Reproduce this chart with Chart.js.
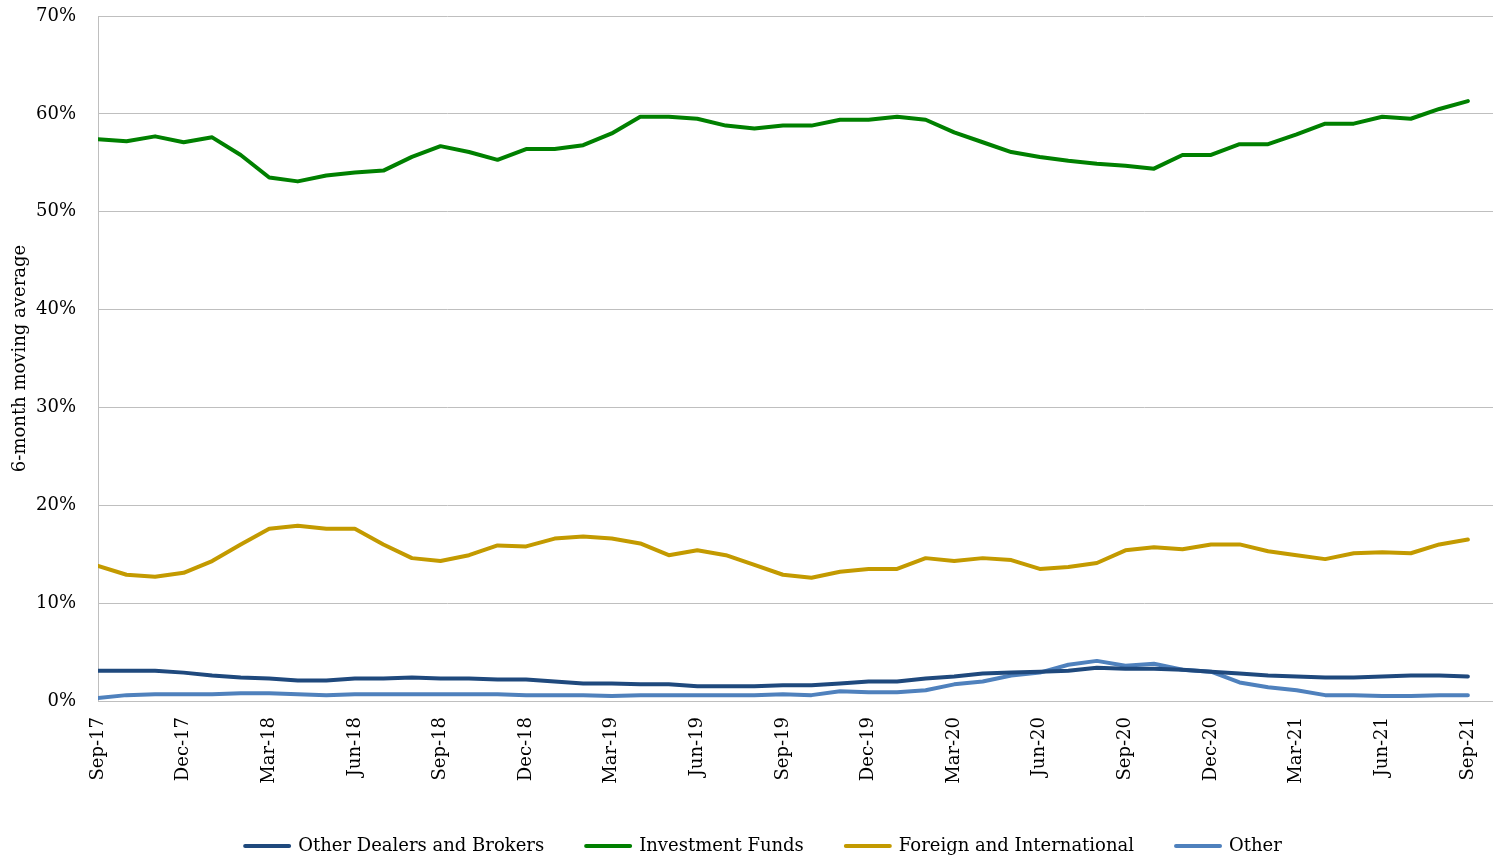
<!DOCTYPE html>
<html>
<head>
<meta charset="utf-8">
<script src="https://cdn.jsdelivr.net/npm/chart.js@4"></script>
<style>
  html, body { margin: 0; padding: 0; background: #fff; }
  #wrap { width: 1493px; height: 858px; }
</style>
</head>
<body>
<div id="wrap"><canvas id="chart"></canvas></div>
<script>
const tickLabels = [
    "Sep-17", "Dec-17", "Mar-18", "Jun-18", "Sep-18", "Dec-18", "Mar-19", "Jun-19",
    "Sep-19", "Dec-19", "Mar-20", "Jun-20", "Sep-20", "Dec-20", "Mar-21", "Jun-21", "Sep-21",
];

// monthly, Sep-17 .. Sep-21 (49 points), percent
const dealers = [
    3.1, 3.1, 3.1, 2.9, 2.6, 2.4, 2.3, 2.1, 2.1, 2.3, 2.3, 2.4, 2.3, 2.3, 2.2, 2.2,
    2.0, 1.8, 1.8, 1.7, 1.7, 1.5, 1.5, 1.5, 1.6, 1.6, 1.8, 2.0, 2.0, 2.3, 2.5, 2.8,
    2.9, 3.0, 3.1, 3.4, 3.3, 3.3, 3.2, 3.0, 2.8, 2.6, 2.5, 2.4, 2.4, 2.5, 2.6, 2.6, 2.5,
];
const funds = [
    57.4, 57.2, 57.7, 57.1, 57.6, 55.8, 53.5, 53.1, 53.7, 54.0, 54.2, 55.6, 56.7, 56.1, 55.3, 56.4,
    56.4, 56.8, 58.0, 59.7, 59.7, 59.5, 58.8, 58.5, 58.8, 58.8, 59.4, 59.4, 59.7, 59.4, 58.1, 57.1,
    56.1, 55.6, 55.2, 54.9, 54.7, 54.4, 55.8, 55.8, 56.9, 56.9, 57.9, 59.0, 59.0, 59.7, 59.5, 60.5, 61.3,
];
const foreign = [
    13.8, 12.9, 12.7, 13.1, 14.3, 16.0, 17.6, 17.9, 17.6, 17.6, 16.0, 14.6, 14.3, 14.9, 15.9, 15.8,
    16.6, 16.8, 16.6, 16.1, 14.9, 15.4, 14.9, 13.9, 12.9, 12.6, 13.2, 13.5, 13.5, 14.6, 14.3, 14.6,
    14.4, 13.5, 13.7, 14.1, 15.4, 15.7, 15.5, 16.0, 16.0, 15.3, 14.9, 14.5, 15.1, 15.2, 15.1, 16.0, 16.5,
];
const other = [
    0.3, 0.6, 0.7, 0.7, 0.7, 0.8, 0.8, 0.7, 0.6, 0.7, 0.7, 0.7, 0.7, 0.7, 0.7, 0.6,
    0.6, 0.6, 0.5, 0.6, 0.6, 0.6, 0.6, 0.6, 0.7, 0.6, 1.0, 0.9, 0.9, 1.1, 1.7, 2.0,
    2.6, 2.9, 3.7, 4.1, 3.6, 3.8, 3.2, 3.0, 1.9, 1.4, 1.1, 0.6, 0.6, 0.5, 0.5, 0.6, 0.6,
];

const FONT = "'DejaVu Serif', 'Liberation Serif', serif";
const GRID = "#BFBFBF";

// left layout padding nudges the legend row right; the y axis box shrinks to keep the plot at x=98
const LEFT_PAD = 34;

const toPoints = arr => arr.map((v, i) => ({ x: i, y: v }));

function series(label, values, color) {
    return {
        label: label,
        data: toPoints(values),
        borderColor: color,
        backgroundColor: color,
        borderWidth: 4,
        borderCapStyle: "round",
        borderJoinStyle: "round",
        pointRadius: 0,
        tension: 0,
    };
}

new Chart(document.querySelector("#chart"), {
    type: "line",
    data: {
        datasets: [
            series("Other Dealers and Brokers", dealers, "#1F497D"),
            series("Investment Funds", funds, "#008000"),
            series("Foreign and International", foreign, "#C39A00"),
            series("Other", other, "#4F81BD"),
        ],
    },
    options: {
        responsive: true,
        maintainAspectRatio: false,
        animation: false,
        layout: { padding: { top: 0, right: 0, left: LEFT_PAD, bottom: -7 } },
        scales: {
            x: {
                type: "linear",
                min: 0,
                max: 48.88,
                grid: { display: false, drawTicks: false },
                border: { display: true, color: GRID, width: 1 },
                ticks: {
                    stepSize: 3,
                    includeBounds: false,
                    autoSkip: false,
                    minRotation: 90,
                    maxRotation: 90,
                    padding: 16,
                    color: "#000",
                    font: { family: FONT, size: 18 },
                    callback: v => tickLabels[v / 3],
                },
                afterFit: axis => {
                    axis.height = 94;
                    axis.paddingLeft = 0;
                    axis.paddingRight = 0;
                },
            },
            y: {
                min: 0,
                max: 70,
                grid: { color: GRID, drawTicks: false },
                border: { display: true, color: GRID, width: 1 },
                ticks: {
                    stepSize: 10,
                    padding: 22,
                    color: "#000",
                    font: { family: FONT, size: 18 },
                    callback: v => v + "%",
                },
                title: {
                    display: true,
                    text: "6-month moving average",
                    color: "#000",
                    font: { family: FONT, size: 18 },
                    padding: { top: -24, bottom: 0 },
                },
                afterFit: axis => {
                    axis.width = 98 - LEFT_PAD;
                    axis.paddingTop = 16;
                },
            },
        },
        plugins: {
            legend: {
                position: "bottom",
                labels: {
                    boxWidth: 44,
                    boxHeight: 0,
                    padding: 42,
                    color: "#000",
                    font: { family: FONT, size: 18 },
                },
            },
            tooltip: { enabled: false },
        },
    },
});
</script>
</body>
</html>
